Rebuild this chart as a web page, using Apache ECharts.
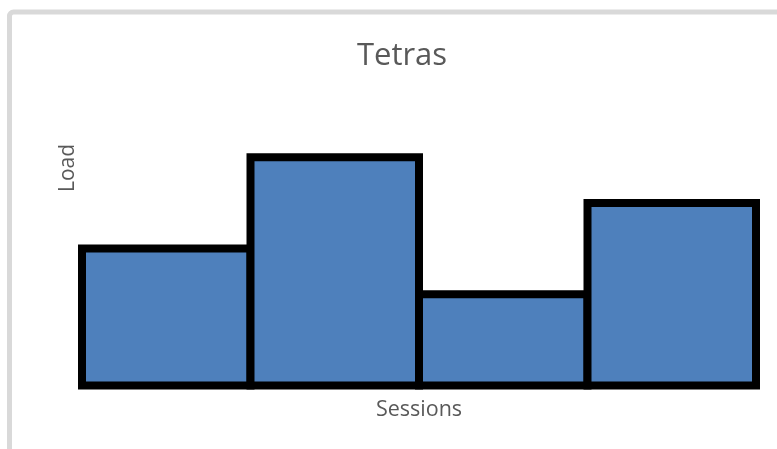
<!DOCTYPE html>
<html>
<head>
<meta charset="utf-8">
<script src="https://cdn.jsdelivr.net/npm/echarts@6/dist/echarts.min.js"></script>
<style>
html,body{margin:0;padding:0;background:#fff;}
#chart{width:777px;height:449px;}
</style>
</head>
<body>
<div id="chart"></div>
<script>
// data
var sessions=['1','2','3','4'];
var load=[3,5,2,4];
var loadMax=6;

var chart=echarts.init(document.getElementById('chart'));
chart.setOption({
    animation:false,
    title:{
        text:'Tetras',
        left:397, top:36, textAlign:'center',
        textStyle:{fontFamily:'Open Sans',fontSize:31,fontWeight:'normal',color:'#595959'}
    },
    grid:{left:82,right:21,top:111.6,bottom:63.5},
    xAxis:{
        type:'category', data:sessions,
        name:'Sessions', nameLocation:'middle', nameGap:13,
        nameTextStyle:{fontFamily:'Open Sans',fontSize:21.5,color:'#595959'},
        axisLine:{show:false}, axisTick:{show:false}, axisLabel:{show:false}
    },
    yAxis:{
        type:'value', min:0, max:loadMax,
        axisLine:{show:false}, axisTick:{show:false}, axisLabel:{show:false},
        splitLine:{show:false}
    },
    graphic:[
        {type:'rect', silent:true, z:-1,
         shape:{x:9.5,y:12,width:820,height:520,r:4},
         style:{fill:null,stroke:'#d9d9d9',lineWidth:5}},
        {type:'text', x:68, y:168, rotation:Math.PI/2,
         style:{text:'Load',fontFamily:'Open Sans',fontSize:21,fill:'#595959',
                align:'center',verticalAlign:'middle'}}
    ],
    series:[{
        // bars touch and share one outline, stroke centred on the edge
        type:'custom',
        data:sessions.map(function(s,i){return [i,load[i]];}),
        encode:{x:0,y:1},
        renderItem:function(params,api){
            var base=api.coord([api.value(0),0]);
            var top=api.coord([api.value(0),api.value(1)]);
            var w=api.size([1,0])[0];
            return {
                type:'rect',
                shape:{x:base[0]-w/2,y:top[1],width:w,height:base[1]-top[1]},
                style:{fill:'#4e80bc',stroke:'#000',lineWidth:8}
            };
        }
    }]
});
</script>
</body>
</html>
